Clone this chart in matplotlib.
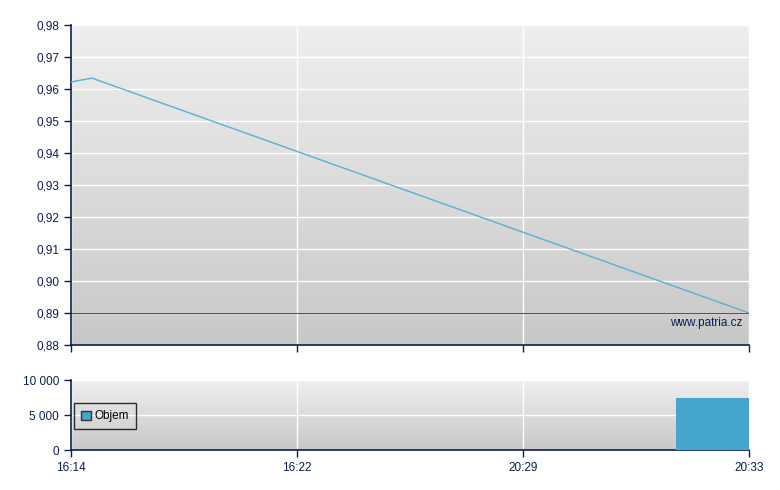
import numpy as np
import matplotlib.pyplot as plt
from matplotlib.ticker import FuncFormatter

plt.rcParams['font.family'] = ['Liberation Sans', 'DejaVu Sans']

# data (x in tick-slot units: 0 = 16:14 ... 3 = 20:33)
time_labels = ["16:14", "16:22", "20:29", "20:33"]
price_x = [0.0, 0.093, 3.0]
price_y = [0.9622, 0.9634, 0.890]
ref_price = 0.89
vol_x = [2.677]
vol_w = [0.323]
vol_y = [7400]

navy = "#0a1f4e"
line_c = "#5aafd6"
bar_c = "#45a5cf"

fig = plt.figure(figsize=(7.8, 4.9), dpi=100)
W, H = 780, 490
ax1 = fig.add_axes([71 / W, 1 - 345 / H, (749 - 71) / W, (345 - 25) / H])
ax2 = fig.add_axes([71 / W, 1 - 450 / H, (749 - 71) / W, (450 - 380) / H])

grad = np.linspace(0, 1, 256).reshape(-1, 1)
from matplotlib.colors import LinearSegmentedColormap
cmap = LinearSegmentedColormap.from_list("bg", ["#c8c8c8", "#efefef"])

for ax in (ax1, ax2):
    ax.imshow(grad, aspect="auto", cmap=cmap, origin="lower",
              extent=[0, 1, 0, 1], transform=ax.transAxes, zorder=0)
    ax.set_xlim(0, 3)
    ax.set_xticks(range(len(time_labels)))
    ax.grid(True, color="white", linewidth=1)
    ax.set_axisbelow(True)
    for s in ("top", "right"):
        ax.spines[s].set_visible(False)
    for s in ("left", "bottom"):
        ax.spines[s].set_color(navy)
        ax.spines[s].set_linewidth(1.2)
    ax.tick_params(direction="out", length=5, width=1, color=navy,
                   labelcolor=navy, labelsize=8.5)

ax1.plot(price_x, price_y, color=line_c, linewidth=1, zorder=3)
ax1.axhline(ref_price, color="#b03030", linewidth=0.8, zorder=2)
ax1.set_ylim(0.88, 0.98)
ax1.set_yticks(np.arange(0.88, 0.981, 0.01))
ax1.yaxis.set_major_formatter(FuncFormatter(lambda v, p: f"{v:.2f}".replace(".", ",")))
ax1.set_xticklabels([])
ax1.text(0.99, 0.07, "www.patria.cz", transform=ax1.transAxes, ha="right",
         va="center", color=navy, fontsize=8.5)

ax2.bar(vol_x, vol_y, width=vol_w, align="edge", color=bar_c, zorder=3,
        label="Objem")
ax2.set_ylim(0, 10000)
ax2.set_yticks([0, 5000, 10000])
ax2.yaxis.set_major_formatter(FuncFormatter(lambda v, p: f"{int(v):,}".replace(",", " ")))
ax2.set_xticklabels(time_labels)
leg = ax2.legend(loc="upper left", bbox_to_anchor=(0.005, 0.67), fontsize=8.5,
                 frameon=True, fancybox=False, handlelength=0.8, handleheight=0.8,
                 borderpad=0.6, handletextpad=0.3, borderaxespad=0)
leg.get_frame().set_edgecolor("black")
leg.get_frame().set_facecolor("none")
leg.get_frame().set_linewidth(1)
for p in leg.get_patches():
    p.set_edgecolor("#333333")

fig.savefig("out.png", dpi=100)
